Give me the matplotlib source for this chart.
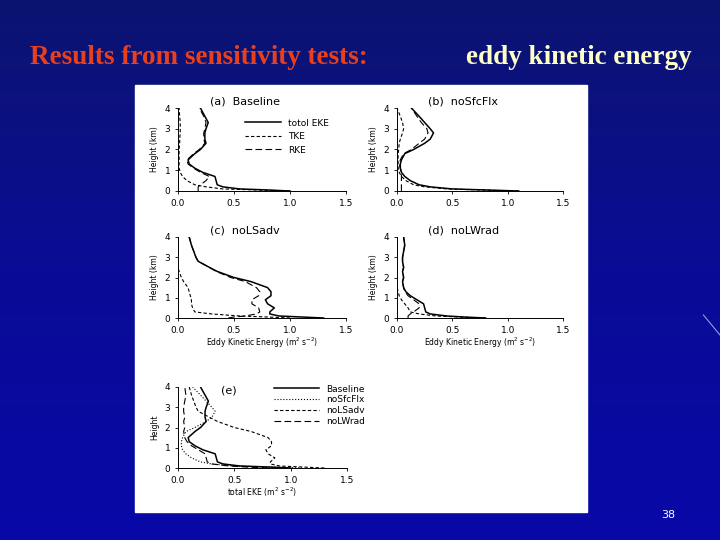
import numpy as np
import matplotlib
matplotlib.use("Agg")
from matplotlib import pyplot as plt
from matplotlib.patches import Rectangle

W, H = 720, 540

z = [0, 0.05, 0.1, 0.2, 0.3, 0.5, 0.7, 0.9, 1.1, 1.3, 1.5, 1.8, 2.0, 2.3, 2.5, 2.8, 3.0, 3.3, 3.6, 4.0]

a_total = [1.0, 0.8, 0.55, 0.4, 0.35, 0.34, 0.33, 0.22, 0.15, 0.1, 0.09, 0.15, 0.2, 0.25, 0.24, 0.24, 0.25, 0.27, 0.24, 0.2]
a_tke = [1.0, 0.7, 0.4, 0.25, 0.15, 0.08, 0.04, 0.02, 0.01, 0.01, 0.01, 0.01, 0.01, 0.015, 0.015, 0.02, 0.02, 0.02, 0.015, 0.01]
a_rke = [0.18, 0.18, 0.18, 0.18, 0.2, 0.25, 0.28, 0.2, 0.14, 0.09, 0.08, 0.14, 0.19, 0.24, 0.23, 0.23, 0.24, 0.25, 0.23, 0.19]

b_total = [1.1, 0.8, 0.5, 0.3, 0.2, 0.12, 0.07, 0.04, 0.03, 0.03, 0.04, 0.07, 0.15, 0.25, 0.3, 0.33, 0.3, 0.25, 0.2, 0.13]
b_tke = [1.1, 0.75, 0.45, 0.25, 0.15, 0.08, 0.04, 0.02, 0.01, 0.01, 0.01, 0.01, 0.015, 0.02, 0.03, 0.05, 0.06, 0.05, 0.03, 0.0]
b_rke = [0.04, 0.04, 0.04, 0.04, 0.04, 0.04, 0.04, 0.04, 0.03, 0.02, 0.03, 0.06, 0.13, 0.2, 0.25, 0.28, 0.27, 0.22, 0.18, 0.13]

c_total = [1.3, 1.1, 0.9, 0.82, 0.82, 0.86, 0.8, 0.78, 0.83, 0.83, 0.8, 0.65, 0.5, 0.35, 0.28, 0.18, 0.16, 0.14, 0.12, 0.1]
c_tke = [1.0, 0.8, 0.55, 0.3, 0.15, 0.13, 0.12, 0.12, 0.11, 0.1, 0.09, 0.05, 0.03, 0.01, 0.0, 0.0, 0.0, 0.0, 0.0, 0.0]
c_rke = [0.45, 0.5, 0.6, 0.7, 0.73, 0.72, 0.66, 0.66, 0.72, 0.73, 0.7, 0.6, 0.47, 0.34, 0.28, 0.18, 0.16, 0.14, 0.12, 0.1]

d_total = [0.8, 0.6, 0.45, 0.3, 0.26, 0.25, 0.24, 0.18, 0.12, 0.08, 0.06, 0.05, 0.06, 0.05, 0.06, 0.05, 0.05, 0.06, 0.07, 0.06]
d_tke = [0.8, 0.55, 0.35, 0.2, 0.12, 0.1, 0.07, 0.04, 0.02, 0.01, 0.0, 0.0, 0.0, 0.0, 0.0, 0.0, 0.0, 0.0, 0.0, 0.0]
d_rke = [0.1, 0.1, 0.1, 0.12, 0.15, 0.2, 0.2, 0.15, 0.1, 0.07, 0.06, 0.05, 0.06, 0.05, 0.06, 0.05, 0.05, 0.06, 0.07, 0.06]

ticks_x = [0.0, 0.5, 1.0, 1.5]
ticks_y = [0, 1, 2, 3, 4]

fig = plt.figure(figsize=(W / 100, H / 100), dpi=100)

# slide background
bg = fig.add_axes([0, 0, 1, 1])
grad = np.linspace(0, 1, 256).reshape(-1, 1)
bg.imshow(grad, aspect="auto", cmap=matplotlib.colors.LinearSegmentedColormap.from_list(
    "s", ["#0c1470", "#0a0c96", "#0808a8"]), extent=[0, 1, 0, 1])
bg.plot([0.977, 1.0], [1 - 315 / H, 1 - 335 / H], color="#8aa0e0", lw=0.8)
bg.set_xlim(0, 1)
bg.set_ylim(0, 1)
bg.axis("off")
bg.add_patch(Rectangle((135 / W, 1 - 512 / H), 452 / W, 427 / H, color="white"))

fig.text(30 / W, 1 - 57 / H, "Results from sensitivity tests:", color="#e8401c",
         fontsize=19.5, fontweight="bold", family="Liberation Serif", ha="left", va="center")
fig.text(692 / W, 1 - 57 / H, "eddy kinetic energy", color="#ffffc8",
         fontsize=19.5, fontweight="bold", family="Liberation Serif", ha="right", va="center")
fig.text(668 / W, 1 - 515 / H, "38", color="white", fontsize=8, ha="center", va="center")


def panel(x0, x1, y0, y1):
    ax = fig.add_axes([x0 / W, 1 - y0 / H, (x1 - x0) / W, (y0 - y1) / H])
    ax.set_xlim(0, 1.5)
    ax.set_ylim(0, 4)
    ax.set_xticks(ticks_x)
    ax.set_xticklabels([f"{t:.1f}" for t in ticks_x])
    ax.set_yticks(ticks_y)
    ax.spines["top"].set_visible(False)
    ax.spines["right"].set_visible(False)
    ax.tick_params(labelsize=6.5, length=2, width=0.6)
    ax.patch.set_alpha(0)
    for s in ax.spines.values():
        s.set_linewidth(0.7)
    return ax


def three(ax, tot, tke, rke, title, xl=None, leg=False):
    ax.plot(tot, z, "k-", lw=1.1, label="totol EKE")
    ax.plot(tke, z, color="k", ls=(0, (3, 2)), lw=0.8, label="TKE")
    ax.plot(rke, z, color="k", ls=(0, (6, 3)), lw=0.8, label="RKE")
    ax.text(0.6, 4.05, title, fontsize=8, ha="center", va="bottom")
    ax.set_ylabel("Height (km)", fontsize=5.5)
    if xl:
        ax.set_xlabel(xl, fontsize=5.5, labelpad=1)
    if leg:
        ax.legend(loc="upper left", bbox_to_anchor=(0.35, 0.97), frameon=False,
                  fontsize=6.5, handlelength=4, labelspacing=0.5)


xl = "Eddy Kinetic Energy (m$^2$ s$^{-2}$)"
three(panel(178, 346, 191, 108), a_total, a_tke, a_rke, "(a)  Baseline", leg=True)
three(panel(397, 563, 191, 108), b_total, b_tke, b_rke, "(b)  noSfcFlx")
three(panel(178, 346, 318, 237), c_total, c_tke, c_rke, "(c)  noLSadv", xl)
three(panel(397, 563, 318, 237), d_total, d_tke, d_rke, "(d)  noLWrad", xl)

ax = panel(178, 347, 468, 387)
ax.plot(a_total, z, "k-", lw=1.1, label="Baseline")
ax.plot(b_total, z, color="k", ls=":", lw=0.8, label="noSfcFlx")
ax.plot(c_total, z, color="k", ls=(0, (3, 2)), lw=0.8, label="noLSadv")
ax.plot(d_total, z, color="k", ls=(0, (6, 3)), lw=0.8, label="noLWrad")
ax.text(0.45, 3.85, "(e)", fontsize=8, ha="center", va="center")
ax.set_ylabel("Height", fontsize=5.5)
ax.set_xlabel("total EKE (m$^2$ s$^{-2}$)", fontsize=5.5, labelpad=1)
ax.legend(loc="upper left", bbox_to_anchor=(0.52, 1.13), frameon=False,
          fontsize=6.5, handlelength=5, labelspacing=0.2, markerfirst=True)

fig.savefig("out.png", dpi=100)
